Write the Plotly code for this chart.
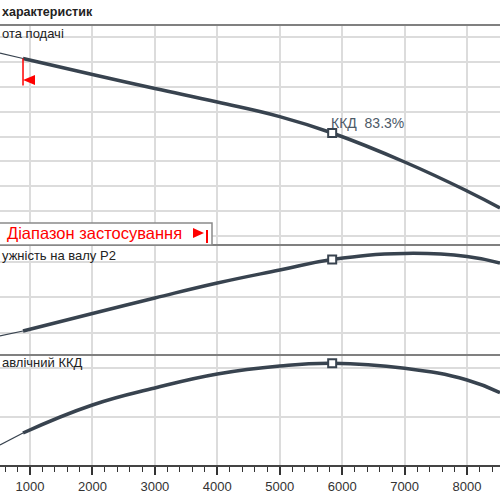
import plotly.graph_objects as go

# ---- data ----
q_low = [519, 888]                       # flow below application range (thin part)
head_low = [18.71, 18.27]
power_low = [0.958, 1.028]
eff_low = [48.6, 53.47]

q_curve = [888, 2000, 3000, 4000, 5000, 5840, 7000, 8000, 8528]
head = [18.27, 16.98, 15.86, 14.77, 13.60, 12.28, 9.95, 7.62, 6.25]
power = [1.028, 1.275, 1.493, 1.704, 1.887, 2.035, 2.120, 2.077, 1.986]
eff = [53.47, 64.90, 71.84, 77.55, 80.82, 81.92, 79.88, 75.10, 69.92]

op_q = 5840
op_head = 12.28
op_power = 2.035
op_eff = 81.92
op_label = "ККД\u00a0\u00a083.3%"

range_min = 888

x_ticks = [1000, 2000, 3000, 4000, 5000, 6000, 7000, 8000]

title_text = "характеристик"
label_head = "ота подачі"
label_power = "ужність на валу P2"
label_eff = "авлічний ККД"
range_text = "Діапазон застосування"

# ---- style ----
CURVE = "#38434f"
GRID = "#dcdcdc"
BORDER = "#808080"
FONT = "Liberation Sans, Arial, sans-serif"

fig = go.Figure()

def add_curve(xs, ys, xa, ya, width):
    fig.add_trace(go.Scatter(x=xs, y=ys, xaxis=xa, yaxis=ya, mode="lines",
                             line=dict(color=CURVE, width=width, shape="spline", smoothing=1.3),
                             hoverinfo="skip"))

add_curve(q_low, head_low, "x3", "y3", 1.2)
add_curve(q_curve, head, "x3", "y3", 3.5)
add_curve(q_low, power_low, "x2", "y2", 1.2)
add_curve(q_curve, power, "x2", "y2", 3.5)
add_curve(q_low, eff_low, "x", "y", 1.2)
add_curve(q_curve, eff, "x", "y", 3.5)

for yv, xa, ya in [(op_head, "x3", "y3"), (op_power, "x2", "y2"), (op_eff, "x", "y")]:
    fig.add_trace(go.Scatter(x=[op_q], y=[yv], xaxis=xa, yaxis=ya, mode="markers",
                             marker=dict(symbol="square", size=8, color="white",
                                         line=dict(color=CURVE, width=2)),
                             hoverinfo="skip"))

xcommon = dict(range=[519.5, 8528], tick0=0, dtick=1000, showgrid=True, gridcolor=GRID,
               gridwidth=1.5, zeroline=False)

fig.update_layout(
    width=500, height=500, margin=dict(l=0, r=0, t=0, b=0),
    paper_bgcolor="white", plot_bgcolor="white", showlegend=False,
    font=dict(family=FONT),
    xaxis=dict(**xcommon, anchor="y", domain=[0, 1], tickvals=x_ticks,
               ticks="outside", ticklen=8, tickwidth=1.5, tickcolor="#333",
               minor=dict(dtick=200, tick0=0, ticks="outside", ticklen=5, tickwidth=1, tickcolor="#333", showgrid=False),
               showline=True, linecolor="#444", linewidth=2,
               tickfont=dict(size=13, color="#333", family=FONT)),
    xaxis2=dict(**xcommon, anchor="y2", matches="x", showticklabels=False, ticks=""),
    xaxis3=dict(**xcommon, anchor="y3", matches="x", showticklabels=False, ticks=""),
    yaxis=dict(domain=[0.07, 0.29], range=[40.4, 85.3], tick0=0, dtick=20, showgrid=True,
               gridcolor=GRID, gridwidth=1.5, showticklabels=False, zeroline=False),
    yaxis2=dict(domain=[0.29, 0.51], range=[0.690, 2.239], tick0=0, dtick=0.5, showgrid=True,
                gridcolor=GRID, gridwidth=1.5, showticklabels=False, zeroline=False),
    yaxis3=dict(domain=[0.51, 0.95], range=[3.277, 20.965], tick0=0, dtick=2, showgrid=True,
                gridcolor=GRID, gridwidth=1.5, showticklabels=False, zeroline=False),
)

shapes = []
# panel borders
for yp in [0.95, 0.51, 0.29]:
    shapes.append(dict(type="line", xref="paper", yref="paper", x0=0, x1=1, y0=yp, y1=yp,
                       line=dict(color=BORDER, width=2)))
# application range legend box
shapes.append(dict(type="rect", xref="paper", yref="paper", x0=-0.01, x1=212/500,
                   y0=(500-245)/500, y1=(500-223)/500, line=dict(color="#8a8a8a", width=1.5),
                   fillcolor="white"))
shapes.append(dict(type="path", xref="paper", yref="paper",
                   path=f"M {193/500} {(500-228)/500} L {193/500} {(500-238)/500} L {204/500} {(500-233)/500} Z",
                   fillcolor="#ff0000", line=dict(width=0)))
shapes.append(dict(type="line", xref="paper", yref="paper", x0=207/500, x1=207/500,
                   y0=(500-230)/500, y1=(500-243)/500, line=dict(color="#ff0000", width=2)))
# application range start marker on head curve
shapes.append(dict(type="line", xref="x3", yref="y3", ysizemode="pixel", yanchor=head_low[-1],
                   x0=range_min, x1=range_min, y0=0, y1=-27, line=dict(color="#ff0000", width=1.5)))
shapes.append(dict(type="path", xref="x3", yref="y3", xsizemode="pixel", ysizemode="pixel",
                   xanchor=range_min, yanchor=head_low[-1],
                   path="M 0 -21.5 L 12 -16.5 L 12 -26.5 Z", fillcolor="#ff0000", line=dict(width=0)))
fig.update_layout(shapes=shapes)

ann = []
ann.append(dict(text=f"<b>{title_text}</b>", xref="paper", yref="paper", x=0, y=(500-12)/500,
                xanchor="left", yanchor="middle", showarrow=False,
                font=dict(size=12.5, color="#222", family=FONT)))
for txt, ypx in [(label_head, 34), (label_power, 255), (label_eff, 362)]:
    ann.append(dict(text=txt, xref="paper", yref="paper", x=0, y=(500-ypx)/500,
                    xanchor="left", yanchor="middle", showarrow=False,
                    font=dict(size=13, color="#222", family=FONT)))
ann.append(dict(text=range_text, xref="paper", yref="paper", x=5/500, y=(500-233)/500,
                xanchor="left", yanchor="middle", showarrow=False,
                font=dict(size=16.5, color="#ff0000", family=FONT)))
ann.append(dict(text=op_label, xref="x3", yref="y3", x=op_q, y=op_head,
                xanchor="left", yanchor="bottom", xshift=-3, yshift=0, showarrow=False,
                font=dict(size=14, color="#4d5a68", family=FONT)))
fig.update_layout(annotations=ann)

fig.write_html("out.html")
